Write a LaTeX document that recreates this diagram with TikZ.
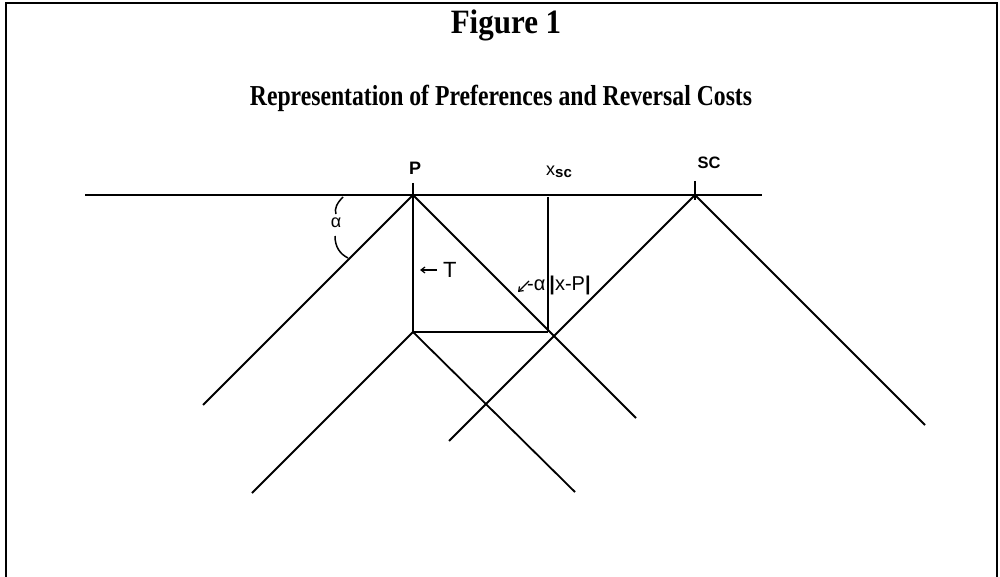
\documentclass[tikz,border=0pt]{standalone}
\usepackage{fontspec}
\setmainfont{Liberation Serif}
\newfontfamily\lab{Liberation Sans}
\usetikzlibrary{arrows.meta}
\begin{document}
\begin{tikzpicture}[x=1pt,y=-1pt,
  frame/.style={line width=2.6pt},
  axis/.style={line width=2.6pt},
  bold/.style={line width=2.6pt},
  thin/.style={line width=1.8pt},
  diag/.style={line width=1.8pt},
  lbl/.style={inner sep=0pt},
  ptr/.style={line width=1.2pt,-{Straight Barb[length=4pt,width=6pt]}},
  ttl/.style={inner sep=0pt}]
\useasboundingbox (0,0) rectangle (1000,577);
% frame
\draw[frame] (6,577) -- (6,3) -- (997,3) -- (997,577);
% titles
\node[ttl,font=\bfseries\fontsize{31}{31}\selectfont] (t1) at (506,25) {\scalebox{1}[1.1]{Figure 1}};
\node[ttl,font=\bfseries\fontsize{23.7}{24}\selectfont] (t2) at (501,98) {\scalebox{1}[1.22]{Representation of Preferences and Reversal Costs}};
% key points
\coordinate (AL) at (85,195);
\coordinate (AR) at (762,195);
\coordinate (P) at (413,195);
\coordinate (SC) at (695,195);
\coordinate (Q) at (413,332);
\coordinate (X) at (548,332);
\coordinate (XT) at (548,197);
\coordinate (Ptop) at (413,183);
\coordinate (SCtop) at (695,181);
\coordinate (SCbot) at (695,200);
% diagonal ends
\coordinate (PL) at (203,405);
\coordinate (PR) at (636,418);
\coordinate (SL) at (449,441);
\coordinate (SR) at (925,425);
\coordinate (QL) at (252,493);
\coordinate (QR) at (575,492);
% axis
\draw[axis] (AL) -- (AR);
% ticks
\draw[bold] (Ptop) -- (P);
\draw[thin] (SCtop) -- (SCbot);
% rectangle
\draw[bold] (P) -- (Q);
\draw[line width=2.3pt] (Q) -- (X);
\draw[thin] (XT) -- (X);
% diagonals
\draw[diag] (PL) -- (P) -- (PR);
\draw[diag] (SL) -- (SC) -- (SR);
\draw[diag] (QL) -- (Q) -- (QR);
% alpha angle mark
\draw[line width=1.5pt] (343,197) .. controls (337,203) and (334,209) .. (336,214);
\draw[line width=1.5pt] (335,236) .. controls (335,247) and (340,254) .. (348,258);
\node[lbl,font=\lab\fontsize{18}{18}\selectfont] (alpha) at (336,223) {α};
% labels
\node[lbl,font=\lab\bfseries\fontsize{18}{18}\selectfont,anchor=south] (Plab) at (415,175) {P};
\node[lbl,font=\lab\bfseries\fontsize{16.5}{16}\selectfont,anchor=south] (SClab) at (709,169) {SC};
\node[lbl,font=\lab\fontsize{18}{18}\selectfont,anchor=base west] (xsc) at (546,176) {x\raisebox{-2pt}{\bfseries\fontsize{15}{15}\selectfont sc}};
\coordinate (Ta) at (437,270);
\coordinate (Tb) at (420,270);
\draw[ptr] (Ta) -- (Tb);
\node[lbl,font=\lab\fontsize{22}{22}\selectfont,anchor=west] (T) at (443,270) {T};
\coordinate (Ma) at (529,281);
\coordinate (Mb) at (518,292);
\draw[ptr] (Ma) -- (Mb);
\node[lbl,font=\lab\fontsize{20}{20}\selectfont,anchor=west] (abs) at (527,285) {-α\kern4pt\textbf{|}x-P\textbf{|}};
\end{tikzpicture}
\end{document}
